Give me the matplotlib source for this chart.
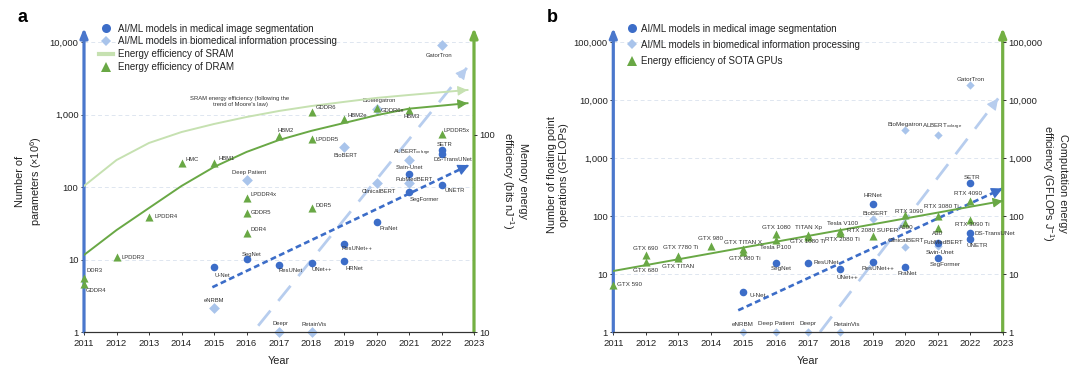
import numpy as np
import matplotlib
matplotlib.use('Agg')
import matplotlib.pyplot as plt
from matplotlib.lines import Line2D

plt.rcParams['font.family'] = ['Liberation Sans', 'DejaVu Sans']
plt.rcParams['mathtext.fontset'] = 'custom'
plt.rcParams['mathtext.rm'] = 'Liberation Sans'
plt.rcParams['mathtext.it'] = 'Liberation Sans:italic'

# ---------------- data: panel a ----------------
years = list(range(2011, 2024))

seg_a_names = ['U-Net', 'SegNet', 'ResUNet', 'UNet++', 'HRNet', 'ResUNet++', 'PraNet',
               'SegFormer', 'Swin-Unet', 'UNETR', 'SETR', 'DS-TransUNet']
seg_a_years = [2015, 2016, 2017, 2018, 2019, 2019, 2020, 2021, 2021, 2022, 2022, 2022]
seg_a_params = [7.85, 10.1, 8.45, 9.1, 9.6, 16.5, 32.9, 85.5, 152, 106, 322, 290]

ALB = r'ALBERT$_{\mathrm{xxlarge}}$'
bio_a_names = ['eNRBM', 'Deep Patient', 'Deepr', 'RetainVis', 'BioBERT', 'ClinicalBERT',
               'BioMegatron', 'PubMedBERT', ALB, 'GatorTron']
bio_a_years = [2015, 2016, 2017, 2018, 2019, 2020, 2020, 2021, 2021, 2022]
bio_a_params = [2.13, 127, 1.0, 1.0, 354, 114, 1202, 114, 234, 9120]

dram_names = ['DDR3', 'GDDR4', 'LPDDR3', 'LPDDR4', 'HMC', 'HBM1', 'LPDDR4x', 'GDDR5', 'DDR4',
              'HBM2', 'LPDDR5', 'GDDR6', 'DDR5', 'HBM2e', 'GDDR6x', 'HBM3', 'LPDDR5x']
dram_years = [2011, 2011, 2012, 2013, 2014, 2015, 2016, 2016, 2016, 2017, 2018, 2018, 2018,
              2019, 2020, 2021, 2022]
dram_eff = [18.9, 17.6, 24.0, 38.5, 72.3, 72.3, 48.1, 40.0, 31.9, 98.8, 95.1, 131, 42.5,
            120, 137, 134, 101]

sram_curve_years = [2011.0, 2012.0, 2013.0, 2014.0, 2015.0, 2016.0, 2017.0, 2018.0, 2019.0,
                    2020.0, 2021.0, 2022.8]
sram_curve_eff = [55.1, 74.6, 91.1, 103.5, 113.7, 123.4, 132.4, 140.3, 147.2, 154.2, 159.6, 169.2]
dram_curve_years = [2011.0, 2012.0, 2013.0, 2014.0, 2015.0, 2016.0, 2017.0, 2018.0, 2019.0,
                    2020.0, 2021.0, 2022.8]
dram_curve_eff = [24.6, 32.9, 42.6, 55.1, 68.8, 82.0, 94.3, 105, 115, 126, 136, 145]

seg_a_trend_years = [2014.95, 2022.85]
seg_a_trend_vals = [4.15, 202]
bio_a_trend_years = [2016.36, 2022.78]
bio_a_trend_vals = [1.22, 4440]

# ---------------- data: panel b ----------------
seg_b_names = seg_a_names
seg_b_years = seg_a_years
seg_b_gflops = [4.9, 15.8, 15.8, 12, 165, 16.2, 13.3, 19, 34, 41, 374, 52]

bio_b_names = bio_a_names
bio_b_years = bio_a_years
bio_b_gflops = [1.0, 1.0, 1.0, 1.0, 88, 29.4, 3047, 30, 2497, 18230]

gpu_names = ['GTX 590', 'GTX 690', 'GTX 680', 'GTX 7780 Ti', 'GTX TITAN', 'GTX 980',
             'GTX TITAN X', 'GTX 980 Ti', 'GTX 1080', 'Tesla P100', 'TITAN Xp', 'GTX 1080 Ti',
             'Tesla V100', 'RTX 2080 Ti', 'RTX 2080 SUPER', 'RTX 3090', 'A100', 'RTX 3080 Ti',
             'A30', 'RTX 4090', 'RTX 3090 Ti']
gpu_years = [2011, 2012, 2012, 2013, 2013, 2014, 2015, 2015, 2016, 2016, 2017, 2017, 2018,
             2018, 2019, 2020, 2020, 2021, 2021, 2022, 2022]
gpu_eff = [6.6, 21.1, 16.2, 20.8, 18.6, 30.2, 26.8, 24.1, 50, 38.4, 46.8, 44, 55.5, 52, 45,
           104, 77.5, 99.6, 62.5, 183, 87.4]

seg_b_trend_years = [2014.85, 2023.0]
seg_b_trend_vals = [2.37, 300]
bio_b_trend_years = [2017.37, 2022.86]
bio_b_trend_vals = [1.0, 10740]
gpu_trend_years = [2011, 2023]
gpu_trend_vals = [11.3, 183]

# ---------------- styles ----------------
BLUE = '#3c6dc8'
LBLUE = '#a9c4eb'
GREEN = '#69a845'
LGREEN = '#c6e1b1'
SP_BLUE = '#4a77cc'
SP_GREEN = '#74b043'
TXT = '#222222'
ATXT = '#333333'
GRID = '#dfe6f0'
TREND_L = '#b7cdee'

W, H = 1080, 372
fig = plt.figure(figsize=(W / 100, H / 100), dpi=100)


def px_axes(x0, x1, ytop, ybot):
    return fig.add_axes([x0 / W, 1 - ybot / H, (x1 - x0) / W, (ybot - ytop) / H])


def arrow_end(ax, xs, ys, color, back=7, hw=0.35, hl=0.7):
    fig.canvas.draw()
    p1 = ax.transData.transform((xs[-2], ys[-2]))
    p2 = ax.transData.transform((xs[-1], ys[-1]))
    d = (p2 - p1) / np.hypot(*(p2 - p1))
    p0 = p2 - d * back
    q = ax.transData.inverted().transform(p0)
    ax.annotate('', xy=(xs[-1], ys[-1]), xytext=(q[0], q[1]),
                arrowprops=dict(arrowstyle='-|>,head_width=%g,head_length=%g' % (hw, hl),
                                color=color, lw=0.8, shrinkA=0, shrinkB=0),
                annotation_clip=False, zorder=4)


def label_points(ax, names, xs, ys, offsets, fs):
    for n, x, y in zip(names, xs, ys):
        dx, dy, ha = offsets.get(n, (0, 7, 'center'))
        ax.annotate(n, (x, y), xytext=(dx, dy), textcoords='offset pixels', ha=ha,
                    va='center', fontsize=fs, color=ATXT, zorder=6, annotation_clip=False)


def style_axes(ax, ax2, yticks, ylabels, y2ticks, y2labels):
    ax.set_xlim(2011, 2023)
    ax.set_xticks(years)
    ax.set_xticklabels([str(y) for y in years], fontsize=6.8, color=TXT)
    ax.set_yticks(yticks)
    ax.set_yticklabels(ylabels, fontsize=6.8, color=TXT)
    ax.minorticks_off()
    ax2.set_yticks(y2ticks)
    ax2.set_yticklabels(y2labels, fontsize=6.8, color=TXT)
    ax2.minorticks_off()
    ax.tick_params(axis='x', length=2.5, width=0.7, pad=2.5, color='#333')
    ax.tick_params(axis='y', length=2, width=0.7, pad=2, color='#333')
    ax2.tick_params(axis='y', length=2, width=0.7, pad=2, color='#333')
    for a in (ax, ax2):
        a.spines['top'].set_visible(False)
        a.spines['left'].set_visible(False)
        a.spines['right'].set_visible(False)
        a.spines['bottom'].set_color('#333')
        a.spines['bottom'].set_linewidth(0.8)
    ax.yaxis.grid(True, which='major', ls=(0, (4, 3)), color=GRID, lw=0.7)
    ax.set_axisbelow(True)
    ax.annotate('', xy=(0, 1.0), xytext=(0, 0), xycoords='axes fraction',
                arrowprops=dict(arrowstyle='-|>,head_width=0.22,head_length=0.55',
                                color=SP_BLUE, lw=2.3, shrinkA=0, shrinkB=0),
                annotation_clip=False, zorder=5)
    ax.annotate('', xy=(1, 1.0), xytext=(1, 0), xycoords='axes fraction',
                arrowprops=dict(arrowstyle='-|>,head_width=0.22,head_length=0.55',
                                color=SP_GREEN, lw=2.3, shrinkA=0, shrinkB=0),
                annotation_clip=False, zorder=5)


# ================= panel a =================
axa = px_axes(84, 474, 28, 332)
axa.set_yscale('log')
axa.set_ylim(1, 10 ** 4.198)
axa2 = axa.twinx()
axa2.set_yscale('log')
axa2.set_ylim(10, 10 ** 2.543)
style_axes(axa, axa2, [1, 10, 100, 1000, 10000], ['1', '10', '100', '1,000', '10,000'],
           [10, 100], ['10', '100'])

axa2.plot(sram_curve_years, sram_curve_eff, color=LGREEN, lw=1.4, zorder=2)
axa2.plot(dram_curve_years, dram_curve_eff, color=GREEN, lw=1.4, zorder=2)
axa.plot(bio_a_trend_years, bio_a_trend_vals, color=TREND_L, lw=2.0, dashes=(7, 4.5), zorder=2)
axa.plot(seg_a_trend_years, seg_a_trend_vals, color=BLUE, lw=1.9, dashes=(2.2, 1.3), zorder=3)

axa.scatter(bio_a_years, bio_a_params, marker='D', s=30, color=LBLUE, zorder=4, clip_on=False, lw=0)
axa.scatter(seg_a_years, seg_a_params, marker='o', s=30, color=BLUE, zorder=5, clip_on=False, lw=0)
axa2.scatter(dram_years, dram_eff, marker='^', s=34, color=GREEN, zorder=5, clip_on=False, lw=0)

arrow_end(axa2, sram_curve_years[-2:], sram_curve_eff[-2:], LGREEN, back=6, hw=0.3, hl=0.6)
arrow_end(axa2, dram_curve_years[-2:], dram_curve_eff[-2:], GREEN, back=6, hw=0.3, hl=0.6)
arrow_end(axa, bio_a_trend_years, bio_a_trend_vals, TREND_L, back=8, hw=0.35, hl=0.7)
arrow_end(axa, seg_a_trend_years, seg_a_trend_vals, BLUE, back=8, hw=0.35, hl=0.7)

dram_off = {'DDR3': (2, 7, 'left'), 'GDDR4': (2, -7, 'left'), 'LPDDR3': (5, 0, 'left'),
            'LPDDR4': (5, 0, 'left'), 'HMC': (4, 3, 'left'), 'HBM1': (4, 4, 'left'),
            'HBM2': (-2, 6, 'left'), 'LPDDR5': (4, 0, 'left'), 'GDDR6': (4, 4, 'left'),
            'HBM2e': (3, 4, 'left'), 'GDDR6x': (4, -2, 'left'), 'HBM3': (-6, -7, 'left'),
            'LPDDR5x': (2, 4, 'left'), 'LPDDR4x': (4, 3, 'left'), 'GDDR5': (4, 1, 'left'),
            'DDR4': (4, 3, 'left'), 'DDR5': (4, 3, 'left')}
seg_a_off = {'U-Net': (8, -8, 'center'), 'SegNet': (5, 5, 'center'), 'ResUNet': (12, -6, 'center'),
             'UNet++': (10, -7, 'center'), 'HRNet': (10, -8, 'center'),
             'ResUNet++': (13, -5, 'center'), 'PraNet': (12, -6, 'center'),
             'SegFormer': (15, -7, 'center'), 'UNETR': (13, -5, 'center'),
             'Swin-Unet': (0, 7, 'center'), 'SETR': (3, 6, 'center'),
             'DS-TransUNet': (11, -6, 'center')}
bio_a_off = {'eNRBM': (0, 8, 'center'), 'Deep Patient': (3, 7, 'center'), 'Deepr': (1, 8, 'center'),
             'RetainVis': (3, 8, 'center'), 'BioBERT': (1, -8, 'center'),
             'ClinicalBERT': (2, -8, 'center'), 'PubMedBERT': (5, 4, 'center'),
             ALB: (3, 8, 'center'), 'BioMegatron': (3, 8, 'center'), 'GatorTron': (-2, -10, 'center')}
label_points(axa2, dram_names, dram_years, dram_eff, dram_off, 4.2)
label_points(axa, seg_a_names, seg_a_years, seg_a_params, seg_a_off, 4.2)
label_points(axa, bio_a_names, bio_a_years, bio_a_params, bio_a_off, 4.2)

axa.text(2015.8, 1515, "SRAM energy efficiency (following the\ntrend of Moore's law)",
         fontsize=4.2, color=ATXT, ha='center', va='center', linespacing=1.4)

ha_ = [Line2D([], [], marker='o', ls='', color=BLUE, ms=6.5, mew=0),
       Line2D([], [], marker='D', ls='', color=LBLUE, ms=5.5, mew=0),
       Line2D([], [], color=LGREEN, lw=3),
       Line2D([], [], marker='^', ls='', color=GREEN, ms=6.5, mew=0)]
la_ = ['AI/ML models in medical image segmentation', 'AI/ML models in biomedical information processing',
       'Energy efficiency of SRAM', 'Energy efficiency of DRAM']
fig.legend(ha_, la_, loc='upper left', bbox_to_anchor=(98.5 / W, 1 - 23.5 / H), frameon=False,
           fontsize=7, handlelength=1.5, handletextpad=0.5, labelspacing=0.3, borderpad=0,
           borderaxespad=0, labelcolor=TXT)

fig.text(29.5 / W, 1 - 181 / H, 'Number of\nparameters (×10$^{6}$)', rotation=90, ha='center',
         va='center', fontsize=7.8, color=TXT, multialignment='center')
fig.text(514 / W, 1 - 181 / H, 'Memory energy\nefficiency (bits nJ$^{-1}$)', rotation=270,
         ha='center', va='center', fontsize=7.8, color=TXT, multialignment='center')
fig.text(279 / W, 1 - 361 / H, 'Year', ha='center', va='center', fontsize=7.8, color=TXT)
fig.text(23 / W, 1 - 18 / H, 'a', ha='center', va='center', fontsize=13, fontweight='bold')

# ================= panel b =================
axb = px_axes(613.3, 1002.7, 28, 332)
axb.set_yscale('log')
axb.set_ylim(1, 10 ** 5.247)
axb2 = axb.twinx()
axb2.set_yscale('log')
axb2.set_ylim(1, 10 ** 5.247)
tk = [1, 10, 100, 1000, 10000, 100000]
tl = ['1', '10', '100', '1,000', '10,000', '100,000']
style_axes(axb, axb2, tk, tl, tk, tl)

axb2.plot(gpu_trend_years, gpu_trend_vals, color=GREEN, lw=1.4, zorder=2)
axb.plot(bio_b_trend_years, bio_b_trend_vals, color=TREND_L, lw=2.0, dashes=(7, 4.5), zorder=2)
axb.plot(seg_b_trend_years, seg_b_trend_vals, color=BLUE, lw=1.9, dashes=(2.2, 1.3), zorder=3)

axb.scatter(bio_b_years, bio_b_gflops, marker='D', s=18, color=LBLUE, zorder=4, clip_on=False, lw=0)
axb.scatter(seg_b_years, seg_b_gflops, marker='o', s=30, color=BLUE, zorder=5, clip_on=False, lw=0)
axb2.scatter(gpu_years, gpu_eff, marker='^', s=34, color=GREEN, zorder=5, clip_on=False, lw=0)

arrow_end(axb2, gpu_trend_years, gpu_trend_vals, GREEN, back=6, hw=0.3, hl=0.6)
arrow_end(axb, bio_b_trend_years, bio_b_trend_vals, TREND_L, back=8, hw=0.35, hl=0.7)
arrow_end(axb, seg_b_trend_years, seg_b_trend_vals, BLUE, back=8, hw=0.35, hl=0.7)

gpu_off = {'GTX 590': (4, 0, 'left'), 'GTX 690': (0, 7, 'center'), 'GTX 680': (0, -9, 'center'),
           'GTX 7780 Ti': (2, 8, 'center'), 'GTX TITAN': (0, -8, 'center'),
           'GTX 980': (0, 8, 'center'), 'GTX TITAN X': (0, 7, 'center'),
           'GTX 980 Ti': (2, -7, 'center'), 'GTX 1080': (1, 6, 'center'),
           'Tesla P100': (0, -7, 'center'), 'TITAN Xp': (0, 8, 'center'),
           'GTX 1080 Ti': (0, -5, 'center'), 'Tesla V100': (2, 7, 'center'),
           'RTX 2080 Ti': (2, -7, 'center'), 'RTX 2080 SUPER': (0, 6, 'center'),
           'RTX 3090': (4, 4, 'center'), 'A100': (1, -5, 'center'),
           'RTX 3080 Ti': (4, 10, 'center'), 'A30': (0, -6, 'center'),
           'RTX 4090': (-2, 7, 'center'), 'RTX 3090 Ti': (2, -5, 'center')}
seg_b_off = {'U-Net': (6, -3, 'left'), 'SegNet': (6, -6, 'center'), 'ResUNet': (18, 0, 'center'),
             'UNet++': (7, -8, 'center'), 'ResUNet++': (5, -7, 'center'), 'HRNet': (0, 8, 'center'),
             'PraNet': (2, -7, 'center'), 'SegFormer': (7, -7, 'center'),
             'Swin-Unet': (2, -9, 'center'), 'SETR': (2, 5, 'center'),
             'DS-TransUNet': (4, -1, 'left'), 'UNETR': (7, -7, 'center')}
bio_b_off = {'eNRBM': (0, 8, 'center'), 'Deep Patient': (1, 8, 'center'), 'Deepr': (0, 8, 'center'),
             'RetainVis': (6, 8, 'center'), 'BioBERT': (2, 6, 'center'),
             'ClinicalBERT': (1, 6, 'center'), 'PubMedBERT': (6, 4, 'center'),
             'BioMegatron': (0, 6, 'center'), ALB: (4, 8, 'center'), 'GatorTron': (0, 6, 'center')}
label_points(axb2, gpu_names, gpu_years, gpu_eff, gpu_off, 4.5)
label_points(axb, seg_b_names, seg_b_years, seg_b_gflops, seg_b_off, 4.5)
label_points(axb, bio_b_names, bio_b_years, bio_b_gflops, bio_b_off, 4.5)

hb_ = [Line2D([], [], marker='o', ls='', color=BLUE, ms=6.5, mew=0),
       Line2D([], [], marker='D', ls='', color=LBLUE, ms=5.5, mew=0),
       Line2D([], [], marker='^', ls='', color=GREEN, ms=6.5, mew=0)]
lb_ = ['AI/ML models in medical image segmentation', 'AI/ML models in biomedical information processing',
       'Energy efficiency of SOTA GPUs']
fig.legend(hb_, lb_, loc='upper left', bbox_to_anchor=(628.5 / W, 1 - 23.5 / H), frameon=False,
           fontsize=7, handlelength=0.8, handletextpad=0.5, labelspacing=0.65, borderpad=0,
           borderaxespad=0, labelcolor=TXT)

fig.text(558 / W, 1 - 175 / H, 'Number of floating point\noperations (GFLOPs)', rotation=90,
         ha='center', va='center', fontsize=7.8, color=TXT, multialignment='center')
fig.text(1054 / W, 1 - 183 / H, 'Computation energy\nefficiency (GFLOPs J$^{-1}$)', rotation=270,
         ha='center', va='center', fontsize=7.8, color=TXT, multialignment='center')
fig.text(808 / W, 1 - 361 / H, 'Year', ha='center', va='center', fontsize=7.8, color=TXT)
fig.text(552 / W, 1 - 18 / H, 'b', ha='center', va='center', fontsize=13, fontweight='bold')

fig.savefig('out.png', dpi=100)
